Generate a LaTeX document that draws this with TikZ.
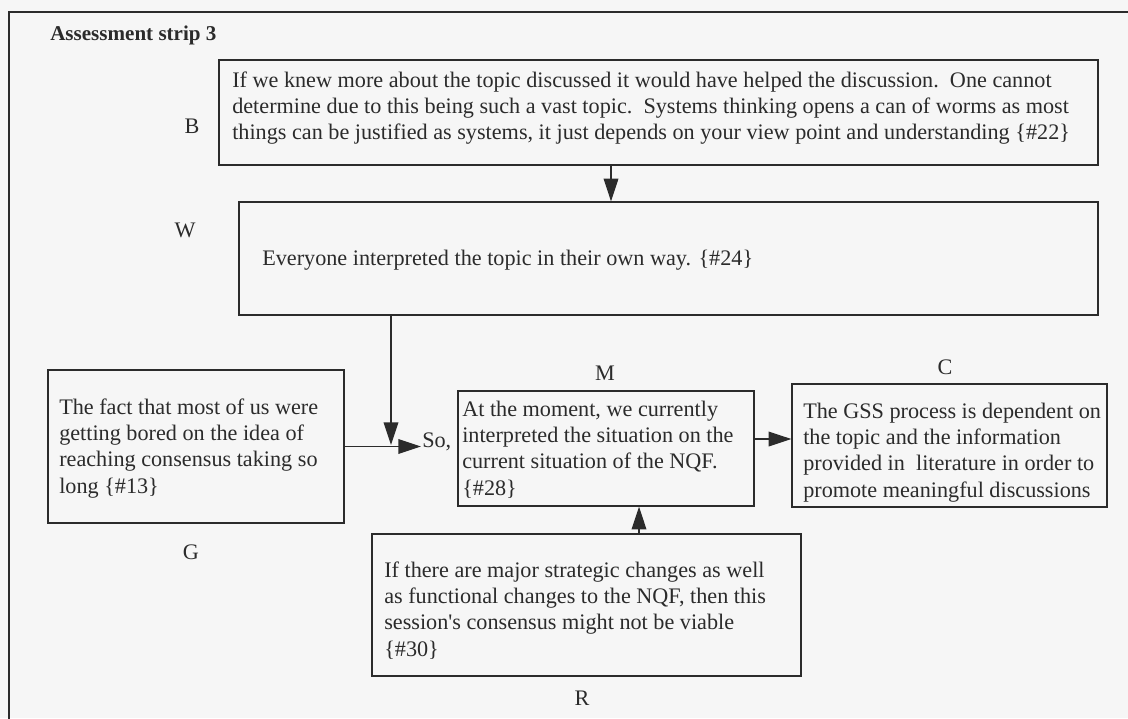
\documentclass[tikz,border=0pt]{standalone}
\usepackage{fontspec}
\setmainfont{Liberation Serif}
\usetikzlibrary{arrows.meta,calc}
\definecolor{ink}{HTML}{2B2B2B}
\definecolor{paper}{HTML}{F6F6F6}
\begin{document}
\begin{tikzpicture}[x=0.75pt,y=-0.75pt,
  every node/.style={font=\fontsize{16.65}{19.7}\selectfont, text=ink},
  card/.style 2 args={draw=ink, line width=1pt, inner sep=0pt,
    minimum width=#1*0.75pt, minimum height=#2*0.75pt},
  body/.style={anchor=north west, inner sep=0pt, align=left},
  tag/.style={anchor=base, inner sep=0pt},
  arr/.style={draw=ink, line width=1pt, -{Triangle[length=17pt,width=11pt]}},
]
\useasboundingbox[fill=paper] (0,0) rectangle (1128,718);
\clip (0,0) rectangle (1128,718);

% outer frame of the strip
\draw[ink, line width=1pt] (1140,12) -- (9,12) -- (9,730);
\node[tag, anchor=base west, font=\fontsize{15.8}{19}\selectfont\bfseries] (title) at (50,40) {Assessment strip 3};

% boxes
\node[card={879}{105}] (B) at (658.5,112.5) {};
\node[card={859}{113}] (W) at (668.5,258.5) {};
\node[card={296}{153}] (G) at (196,446.5) {};
\node[card={296}{115}] (M) at (606,448.5) {};
\node[card={315}{123}] (C) at (949.5,445.5) {};
\node[card={429}{142}] (R) at (586.5,605) {};

% box texts
\node[body] (Bt) at (232,68.6) {\strut If we knew more about the topic discussed it would have helped the discussion.\ \ One cannot\\
determine due to this being such a vast topic.\ \ Systems thinking opens a can of worms as most\\
things can be justified as systems, it just depends on your view point and understanding \{\#22\}};
\node[body] (Wt) at (262,246.6) {\strut Everyone interpreted the topic in their own way. \{\#24\}};
\node[body] (Gt) at (59,395.6) {\strut The fact that most of us were\\getting bored on the idea of\\reaching consensus taking so\\long \{\#13\}};
\node[body] (Mt) at (462,397.6) {\strut At the moment, we currently\\interpreted the situation on the\\current situation of the NQF.\\\{\#28\}};
\node[body] (Ct) at (803,399.6) {\strut The GSS process is dependent on\\the topic and the information\\provided in\ \ literature in order to\\promote meaningful discussions};
\node[body] (Rt) at (384,558.6) {\strut If there are major strategic changes as well\\as functional changes to the NQF, then this\\session\textquotesingle s consensus might not be viable\\\{\#30\}};

% letter tags
\node[tag] (tB) at (192,133) {B};
\node[tag] (tW) at (185,237) {W};
\node[tag] (tG) at (191,559) {G};
\node[tag] (tM) at (605,380) {M};
\node[tag] (tC) at (945,374) {C};
\node[tag] (tR) at (582,705) {R};
\node[tag, anchor=base west, inner sep=0.75pt] (so) at (421,447) {So,};

% connectors
\coordinate (xBW) at (611,0);
\draw[arr] (B.south -| xBW) -- (W.north -| xBW);
\coordinate (J) at (391,445);
\draw[arr] (W.south -| J) -- (J);
\draw[arr] (G.east) -- (G.east -| so.west);
\coordinate (yMC) at (0,439);
\draw[arr] (M.east |- yMC) -- (C.west |- yMC);
\coordinate (xRM) at (639,0);
\draw[arr] (R.north -| xRM) -- (M.south -| xRM);
\end{tikzpicture}
\end{document}
